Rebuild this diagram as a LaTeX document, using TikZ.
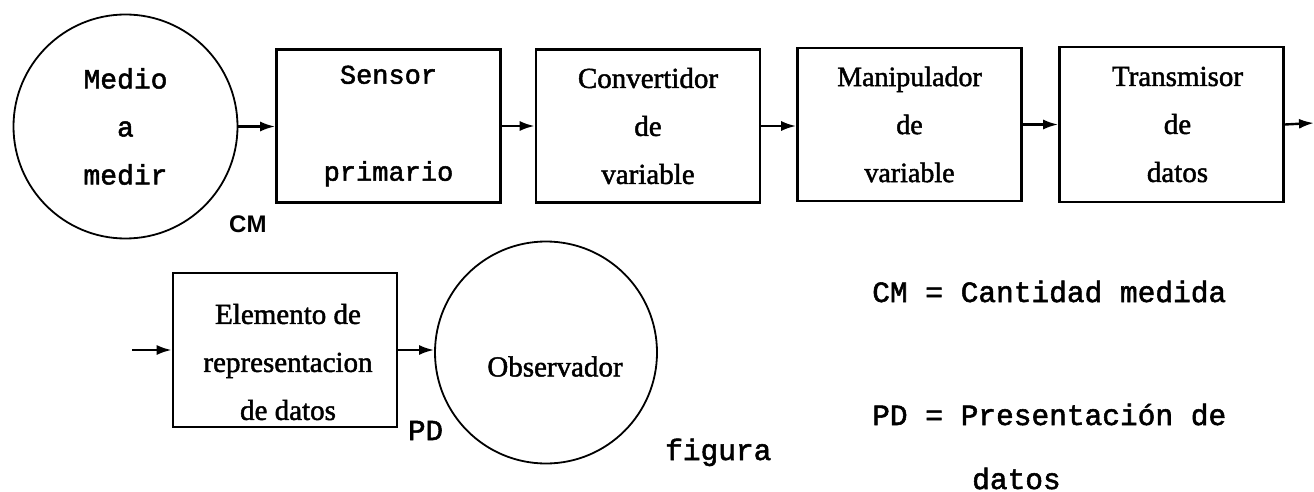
\documentclass[tikz,border=0pt]{standalone}
\usepackage{fontspec}
\setmainfont{Liberation Serif}[FakeBold=1.6]
\newfontfamily\typefont{Liberation Mono}[FakeBold=1.8]
\newfontfamily\labelsans{Liberation Sans}
\usetikzlibrary{arrows.meta}

\begin{document}
\begin{tikzpicture}[x=1pt,y=-1pt,
  blockbox/.style={draw, line width=2.6pt, inner sep=0pt,
    minimum width=224pt, minimum height=153pt},
  roundbox/.style={draw, circle, line width=1.8pt, inner sep=0pt,
    minimum size=224pt},
  serifbody/.style={font=\fontsize{29}{48}\selectfont, align=center},
  typebody/.style={font=\typefont\fontsize{28}{48}\selectfont, align=center},
  legend/.style={font=\typefont\fontsize{29.5}{30}\selectfont, inner sep=0pt, anchor=base west},
  flow/.style={line width=2.4pt, -{Latex[length=15pt,width=10pt]}}]

\useasboundingbox (0,0) rectangle (1314,492);

% upper chain
\node[roundbox, typebody] (medio) at (125.5,126.5) {Medio\\a\\medir};
\node[blockbox, typebody, font=\typefont\fontsize{27}{48.5}\selectfont]
  (sensor) at (388.5,126) {Sensor\\~\\primario};
\node[blockbox, serifbody] (conv) at (648,126) {Convertidor\\de\\variable};
\node[blockbox, serifbody, font=\fontsize{28}{48}\selectfont]
  (manip) at (909.5,124.5) {Manipulador\\de\\variable};
\node[blockbox, minimum height=155pt,
  label={[serifbody, xshift=6pt]center:Transmisor\\de\\datos}]
  (trans) at (1171.5,124.5) {};
\coordinate (out) at (1314,123);

% lower chain
\coordinate (in) at (132,350);
\node[blockbox, minimum height=154pt,
  label={[serifbody, yshift=-12pt, xshift=3pt]center:Elemento de\\representacion\\de datos}]
  (elem) at (285,350) {};
\node[roundbox, minimum size=222pt,
  label={[font=\fontsize{29}{29}\selectfont, yshift=-14pt, xshift=9pt]center:Observador}]
  (obs) at (546,352.5) {};

% connectors
\draw[flow] (medio.east) -- (medio.east -| sensor.west);
\draw[flow] (sensor.east) -- (sensor.east -| conv.west);
\draw[flow] (conv.east) -- (conv.east -| manip.west);
\draw[flow] (manip.east) -- (manip.east -| trans.west);
\draw[flow] (trans.east) -- (out);
\draw[flow] (in) -- (in -| elem.west);
\draw[flow] (elem.east) -- (elem.east -| obs.west);

% signal labels
\node[font=\labelsans\bfseries\fontsize{24}{24}\selectfont, inner sep=0pt, anchor=base west]
  (cm) at (229,232) {CM};
\node[font=\typefont\fontsize{29}{29}\selectfont, inner sep=0pt, anchor=base west]
  (pd) at (408,440) {PD};
\node[legend] (fig) at (665,460) {figura};

% key
\node[legend] (cmkey) at (872,302) {CM = Cantidad medida};
\node[legend] (pdkey) at (872,425) {PD = Presentación de};
\node[legend] (pdkey2) at (972,489) {datos};
\end{tikzpicture}
\end{document}
